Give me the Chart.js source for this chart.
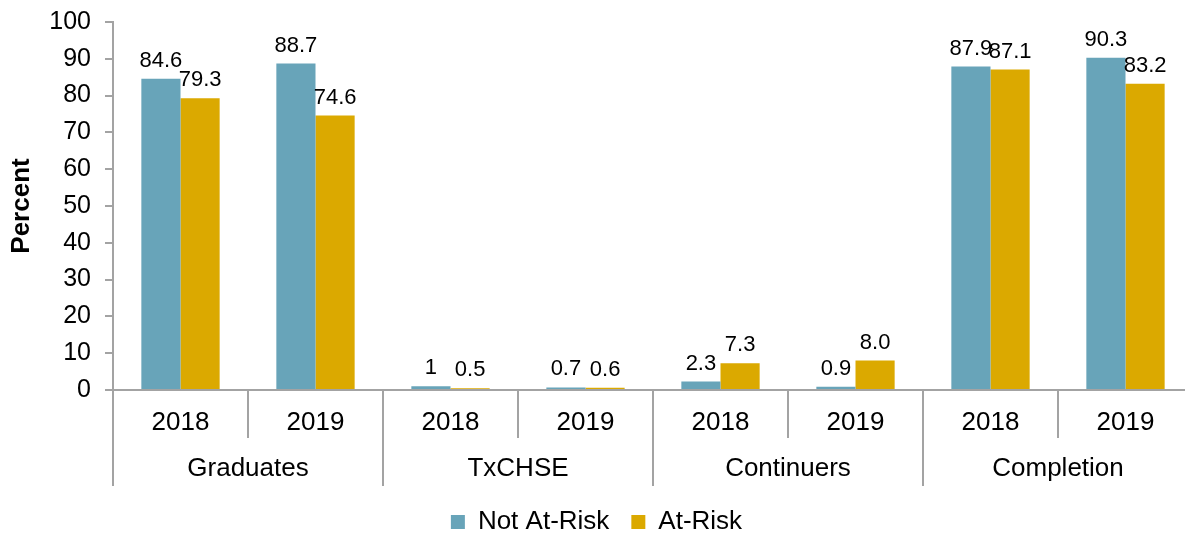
<!DOCTYPE html>
<html>
<head>
<meta charset="utf-8">
<script src="https://cdn.jsdelivr.net/npm/chart.js@4.4.1/dist/chart.umd.min.js"></script>
<style>
  html, body { margin: 0; padding: 0; background: #ffffff; overflow: hidden; }
  #wrap { width: 1193px; height: 533px; position: relative; }
</style>
</head>
<body>
<div id="wrap"><canvas id="c"></canvas></div>
<script>
// ---- data ----
const years = ['2018', '2019', '2018', '2019', '2018', '2019', '2018', '2019'];
const groups = ['Graduates', 'TxCHSE', 'Continuers', 'Completion'];
const notAtRisk = [84.6, 88.7, 1, 0.7, 2.3, 0.9, 87.9, 90.3];
const atRisk = [79.3, 74.6, 0.5, 0.6, 7.3, 8.0, 87.1, 83.2];
const notAtRiskText = ['84.6', '88.7', '1', '0.7', '2.3', '0.9', '87.9', '90.3'];
const atRiskText = ['79.3', '74.6', '0.5', '0.6', '7.3', '8.0', '87.1', '83.2'];
const yTicks = [0, 10, 20, 30, 40, 50, 60, 70, 80, 90, 100];

const FONT = "'Liberation Sans', Arial, sans-serif";
const GRAY = '#a3a3a3';

const valueLabels = {
  id: 'valueLabels',
  afterDatasetsDraw(chart) {
    const ctx = chart.ctx;
    const texts = [notAtRiskText, atRiskText];
    ctx.save();
    ctx.font = '22px ' + FONT;
    ctx.fillStyle = '#000';
    ctx.textAlign = 'center';
    ctx.textBaseline = 'middle';
    chart.data.datasets.forEach((ds, di) => {
      const meta = chart.getDatasetMeta(di);
      meta.data.forEach((bar, i) => {
        ctx.fillText(texts[di][i], bar.x, bar.y - 18);
      });
    });
    ctx.restore();
  }
};

const groupAxis = {
  id: 'groupAxis',
  afterDraw(chart) {
    const ctx = chart.ctx;
    const x = chart.scales.x;
    const bottom = chart.chartArea.bottom;
    const step = x.getPixelForValue(1) - x.getPixelForValue(0);
    ctx.save();
    ctx.strokeStyle = GRAY;
    ctx.lineWidth = 2;
    for (let i = 0; i <= years.length; i++) {
      const px = Math.round(x.getPixelForValue(i) - step / 2);
      const len = (i % 2 === 0) ? 96 : 48;
      ctx.beginPath();
      ctx.moveTo(px, bottom);
      ctx.lineTo(px, bottom + len);
      ctx.stroke();
    }
    ctx.font = '26px ' + FONT;
    ctx.fillStyle = '#000';
    ctx.textAlign = 'center';
    ctx.textBaseline = 'middle';
    groups.forEach((g, gi) => {
      const cx = (x.getPixelForValue(gi * 2) + x.getPixelForValue(gi * 2 + 1)) / 2;
      ctx.fillText(g, cx, bottom + 79);
    });
    ctx.restore();
  }
};

new Chart(document.getElementById('c'), {
  type: 'bar',
  data: {
    labels: years,
    datasets: [
      { label: 'Not At-Risk', data: notAtRisk, backgroundColor: '#68a4b9' },
      { label: 'At-Risk', data: atRisk, backgroundColor: '#dba900' }
    ]
  },
  options: {
    responsive: true,
    maintainAspectRatio: false,
    animation: false,
    devicePixelRatio: 1,
    layout: { padding: { top: 22, left: 0, right: 0, bottom: -12 } },
    datasets: { bar: { categoryPercentage: 0.58, barPercentage: 1.0 } },
    plugins: {
      tooltip: { enabled: false },
      legend: {
        position: 'bottom',
        labels: {
          font: { family: FONT, size: 26 },
          color: '#000',
          boxWidth: 14,
          boxHeight: 14,
          padding: 22
        }
      }
    },
    scales: {
      x: {
        grid: { display: false },
        border: { display: true, color: GRAY, width: 2 },
        ticks: {
          font: { family: FONT, size: 26 },
          color: '#000',
          padding: 9,
          autoSkip: false,
          maxRotation: 0
        },
        afterFit(scale) { scale.height = 97; }
      },
      y: {
        min: 0,
        max: 100,
        afterBuildTicks(scale) { scale.ticks = yTicks.map(v => ({ value: v })); },
        grid: { display: true, drawOnChartArea: false, drawTicks: true, tickLength: 8, color: GRAY, lineWidth: 2 },
        border: { display: true, color: GRAY, width: 2 },
        ticks: {
          font: { family: FONT, size: 25 },
          color: '#000',
          padding: 14
        },
        title: {
          display: true,
          text: 'Percent',
          font: { family: FONT, size: 26, weight: 'bold' },
          color: '#000',
          padding: { top: 6, bottom: 0 }
        },
        afterFit(scale) { scale.width = 113; scale.paddingTop = 0; scale.paddingBottom = 0; }
      }
    }
  },
  plugins: [valueLabels, groupAxis]
});
</script>
</body>
</html>
